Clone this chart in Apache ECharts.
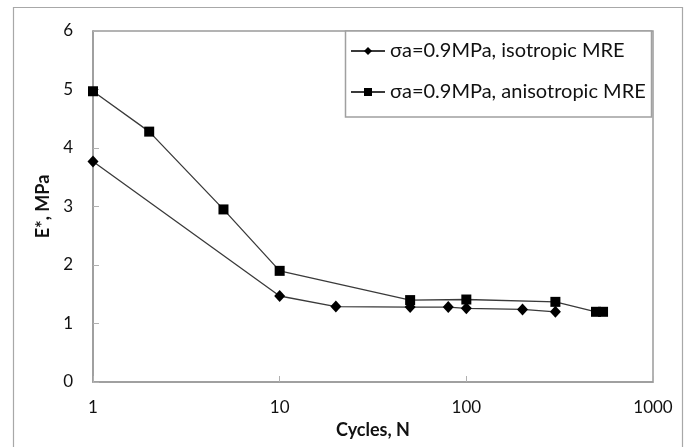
<!DOCTYPE html>
<html>
<head>
<meta charset="utf-8">
<script src="https://cdn.jsdelivr.net/npm/echarts@6/dist/echarts.min.js"></script>
<style>
html,body{margin:0;padding:0;background:#fff;}
#c{width:690px;height:447px;}
</style>
</head>
<body>
<div id="c"></div>
<script>
var isoN = [1, 10, 20, 50, 80, 100, 200, 300];
var isoE = [3.77, 1.47, 1.29, 1.28, 1.28, 1.26, 1.24, 1.20];
var aniN = [1, 2, 5, 10, 50, 100, 300, 495, 540];
var aniE = [4.97, 4.28, 2.95, 1.90, 1.40, 1.41, 1.37, 1.20, 1.20];
var seriesNames = ['σa=0.9MPa, isotropic MRE', 'σa=0.9MPa, anisotropic MRE'];
var xTicks = [1, 10, 100, 1000];
var yTicks = [0, 1, 2, 3, 4, 5, 6];

function pairs(xs, ys){ return xs.map(function(x,i){ return [x, ys[i]]; }); }

var font = 'Lato, "Open Sans", sans-serif';
var chart = echarts.init(document.getElementById('c'), null, {renderer:'canvas'});
chart.setOption({
  animation: false,
  backgroundColor: '#fff',
  grid: {left: 93, top: 31, right: 37, bottom: 65, show: true, borderColor: '#9a9a9a', borderWidth: 1.5},
  xAxis: {
    type: 'log', logBase: 10, min: xTicks[0], max: xTicks[xTicks.length-1],
    name: 'Cycles, N', nameLocation: 'middle', nameGap: 34,
    nameTextStyle: {fontFamily: font, fontWeight: 'bold', fontSize: 18, color: '#111'},
    axisLine: {lineStyle: {color: '#9a9a9a', width: 1.5}},
    axisTick: {inside: true, length: 6, lineStyle: {color: '#b0b0b0'}},
    minorTick: {show: false},
    splitLine: {show: false},
    axisLabel: {fontFamily: font, fontSize: 17, color: '#111', margin: 17,
      formatter: function(v){ return String(Math.round(v)); }}
  },
  yAxis: {
    type: 'value', min: yTicks[0], max: yTicks[yTicks.length-1], interval: 1,
    name: 'E*, MPa', nameLocation: 'middle', nameGap: 37, nameRotate: 90,
    nameTextStyle: {fontFamily: font, fontWeight: 'bold', fontSize: 18, color: '#111'},
    axisLine: {show: true, lineStyle: {color: '#9a9a9a', width: 1.5}},
    axisTick: {show: true, inside: true, length: 6, lineStyle: {color: '#b0b0b0'}},
    splitLine: {show: false},
    axisLabel: {fontFamily: font, fontSize: 17, color: '#111', margin: 20}
  },
  legend: {
    orient: 'vertical', left: 350, top: 41, padding: 0, itemGap: 21,
    itemWidth: 34, itemHeight: 10,
    textStyle: {fontFamily: font, fontSize: 20, lineHeight: 20, color: '#111'},
    data: seriesNames
  },
  graphic: [
    {type: 'rect', silent: true, z: 0, shape: {x: 13.5, y: 7.5, width: 669, height: 460},
     style: {fill: null, stroke: '#a8a8a8', lineWidth: 1.2}},
    {type: 'rect', silent: true, z: 1, shape: {x: 345.5, y: 31, width: 306, height: 86},
     style: {fill: '#fff', stroke: '#a0a0a0', lineWidth: 1.5}}
  ],
  series: [
    {name: seriesNames[0], type: 'line', data: pairs(isoN, isoE), symbol: 'diamond', symbolSize: [11, 12],
     lineStyle: {color: '#3a3a3a', width: 1.3}, itemStyle: {color: '#000'}, z: 3},
    {name: seriesNames[1], type: 'line', data: pairs(aniN, aniE), symbol: 'rect', symbolSize: 10,
     lineStyle: {color: '#3a3a3a', width: 1.3}, itemStyle: {color: '#000'}, z: 3}
  ]
});
</script>
</body>
</html>
